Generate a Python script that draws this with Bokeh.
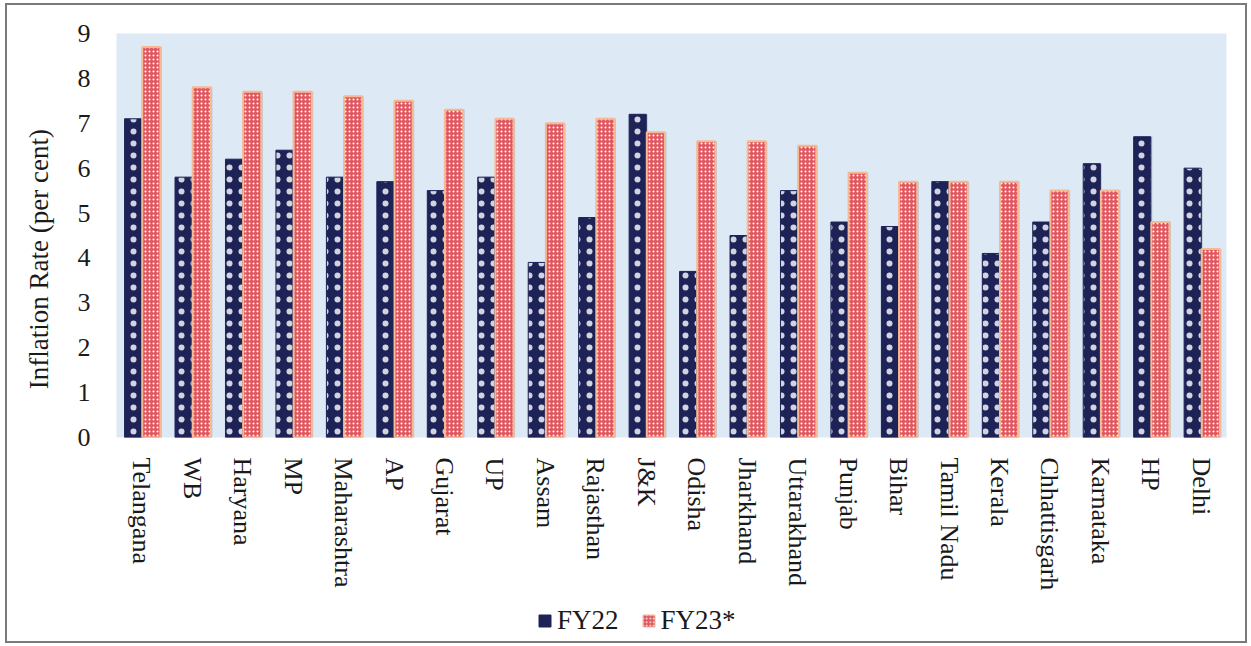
from bokeh.plotting import figure
from bokeh.layouts import column
from bokeh.models import ColumnDataSource, FactorRange, Range1d, FixedTicker, Legend, LegendItem
from bokeh.transform import dodge
from bokeh.embed import file_html
from bokeh.resources import INLINE

states = ["Telangana", "WB", "Haryana", "MP", "Maharashtra", "AP", "Gujarat", "UP",
          "Assam", "Rajasthan", "J&K", "Odisha", "Jharkhand", "Uttarakhand", "Punjab",
          "Bihar", "Tamil Nadu", "Kerala", "Chhattisgarh", "Karnataka", "HP", "Delhi"]
fy22 = [7.1, 5.8, 6.2, 6.4, 5.8, 5.7, 5.5, 5.8, 3.9, 4.9, 7.2, 3.7, 4.5, 5.5, 4.8,
        4.7, 5.7, 4.1, 4.8, 6.1, 6.7, 6.0]
fy23 = [8.7, 7.8, 7.7, 7.7, 7.6, 7.5, 7.3, 7.1, 7.0, 7.1, 6.8, 6.6, 6.6, 6.5, 5.9,
        5.7, 5.7, 5.7, 5.5, 5.5, 4.8, 4.2]
y_ticks = [0, 1, 2, 3, 4, 5, 6, 7, 8, 9]
series_names = ["FY22", "FY23*"]

src = ColumnDataSource(dict(state=states, fy22=fy22, fy23=fy23))

FONT = "Liberation Serif"
NBSP = "\u00a0"
NAVY = "#1E2357"
RED = "#DE5860"
PEACH = "#F5B994"

W = 1238

p = figure(x_range=FactorRange(factors=states, range_padding=0),
           y_range=Range1d(0, 9),
           frame_width=1110, frame_height=404,
           output_backend="svg", toolbar_location=None,
           min_border_left=109, min_border_right=W - 109 - 1110,
           min_border_top=28, min_border_bottom=164)

p.background_fill_color = "#DDE9F5"
p.border_fill_color = "white"
p.outline_line_color = None
p.xgrid.grid_line_color = None
p.ygrid.grid_line_color = None

# subtle shadows
p.vbar(x=dodge("state", -0.14, range=p.x_range), top="fy22", width=0.34, source=src,
       fill_color="#8b9bb0", fill_alpha=0.4, line_color=None)
p.vbar(x=dodge("state", 0.22, range=p.x_range), top="fy23", width=0.36, source=src,
       fill_color="#8b9bb0", fill_alpha=0.4, line_color=None)

p.vbar(x=dodge("state", -0.17, range=p.x_range), top="fy22", width=0.34, source=src,
       fill_color=NAVY, line_color=NAVY, line_width=1,
       hatch_pattern="dot", hatch_color="white", hatch_scale=12, hatch_weight=0.1,
       hatch_alpha=0.8)
p.vbar(x=dodge("state", 0.19, range=p.x_range), top="fy23", width=0.36, source=src,
       fill_color=RED, line_color=PEACH, line_width=2,
       hatch_pattern="dot", hatch_color="white", hatch_scale=4, hatch_weight=1.8)

p.yaxis.ticker = FixedTicker(ticks=y_ticks)
p.yaxis.axis_label = "Inflation Rate (per cent)" + NBSP * 7
p.yaxis.axis_label_text_font = FONT
p.yaxis.axis_label_text_font_style = "normal"
p.yaxis.axis_label_text_font_size = "27px"
p.yaxis.axis_label_text_color = "#1a1a1a"
p.yaxis.axis_label_standoff = 21

for ax in (p.xaxis, p.yaxis):
    ax.axis_line_color = None
    ax.major_tick_line_color = None
    ax.minor_tick_line_color = None
    ax.major_label_text_font = FONT
    ax.major_label_text_color = "#1a1a1a"

p.yaxis.major_label_text_font_size = "26px"
p.xaxis.major_label_text_font_size = "26px"
p.yaxis.major_label_standoff = 20
p.xaxis.major_label_orientation = "vertical"
p.xaxis.major_label_standoff = 14

# legend strip below the chart
LH = 40
lf = figure(width=W, height=LH, x_range=Range1d(0, 1), y_range=Range1d(0, 1),
            output_backend="svg", toolbar_location=None,
            min_border=0, x_axis_location=None, y_axis_location=None)
lf.outline_line_color = None
lf.background_fill_color = "white"
lf.border_fill_color = "white"
lf.xgrid.grid_line_color = None
lf.ygrid.grid_line_color = None
proxy = ColumnDataSource(dict(x=[5], top=[0]))
l1 = lf.vbar(x="x", top="top", width=0.1, source=proxy,
             fill_color=NAVY, line_color=NAVY)
l2 = lf.vbar(x="x", top="top", width=0.1, source=proxy,
             fill_color=RED, line_color=PEACH,
             hatch_pattern="dot", hatch_color="white", hatch_scale=3.5, hatch_weight=1.4)
legend = Legend(items=[LegendItem(label=series_names[0], renderers=[l1]),
                       LegendItem(label=series_names[1], renderers=[l2])],
                orientation="horizontal", location=(421, 5),
                label_text_font=FONT, label_text_font_size="27px",
                label_text_color="#1a1a1a",
                glyph_width=15, glyph_height=15, spacing=22, label_standoff=5,
                border_line_color=None, background_fill_alpha=0,
                margin=0, padding=0)
lf.add_layout(legend, "center")

layout = column(p, lf, spacing=0, margin=(5, 0, 0, 7),
                styles={"outline": "2px solid #7a7a7a"})

open("out.html", "w").write(file_html(layout, INLINE))
